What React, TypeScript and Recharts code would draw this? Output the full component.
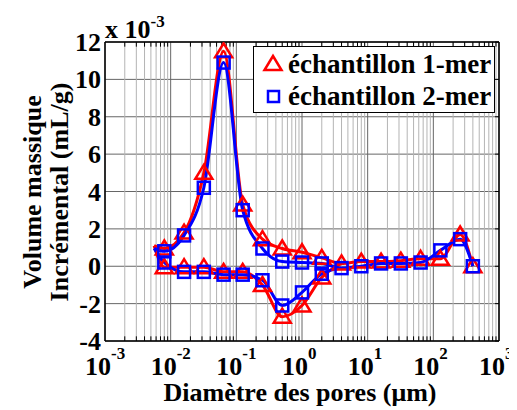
import React from "react";
import {
  LineChart,
  Line,
  XAxis,
  YAxis,
  CartesianGrid,
  ReferenceLine,
  Legend,
} from "recharts";

const FONT = '"Liberation Serif", "Times New Roman", serif';

// pore diameters (µm), same for both samples
const diameters = [0.008, 0.016, 0.032, 0.064, 0.125, 0.25, 0.5, 1, 2, 4, 8, 16, 32, 64, 128, 256, 400];
const mer1Upper = [0.95, 1.8, 5.0, 11.5, 3.3, 1.45, 0.95, 0.75, 0.45, 0.15, 0.25, 0.25, 0.3, 0.4, 0.4, 1.7, 0.0];
const mer2Upper = [0.8, 1.65, 4.2, 10.9, 3.0, 0.95, 0.25, 0.2, 0.15, -0.1, 0.0, 0.15, 0.15, 0.2, 0.85, 1.45, 0.0];

// lower branch of the loop
const lowerDiameters = [0.008, 0.016, 0.032, 0.064, 0.125, 0.25, 0.5, 1, 2];
const mer1Lower = [-0.05, -0.05, -0.05, -0.3, -0.3, -1.0, -2.7, -2.1, -0.6];
const mer2Lower = [0.2, -0.3, -0.3, -0.45, -0.45, -0.75, -2.1, -1.4, -0.4];

// left tip of the loop where both branches meet
const loopDiameter = 0.0056;
const mer1Loop = 1.1;
const mer2Loop = 0.95;

const xTicks = [0.001, 0.01, 0.1, 1, 10, 100, 1000];
const yTicks = [-4, -2, 0, 2, 4, 6, 8, 10, 12];

const minorX: number[] = [];
for (let e = -3; e < 3; e++) {
  for (let m = 2; m <= 9; m++) minorX.push(m * Math.pow(10, e));
}

const upperData = (vals: number[], tip: number) => [
  { d: loopDiameter, v: tip, mark: false },
  ...diameters.map((d, i) => ({ d, v: vals[i], mark: true })),
];
const lowerData = (vals: number[], tip: number, join: number) => [
  { d: loopDiameter, v: tip, mark: false },
  ...lowerDiameters.map((d, i) => ({ d, v: vals[i], mark: true })),
  { d: 4, v: join, mark: false },
];

const red1Up = upperData(mer1Upper, mer1Loop);
const red1Low = lowerData(mer1Lower, mer1Loop, mer1Upper[9]);
const blue2Up = upperData(mer2Upper, mer2Loop);
const blue2Low = lowerData(mer2Lower, mer2Loop, mer2Upper[9]);

const Triangle = (props: any) => {
  const { cx, cy, payload, index } = props;
  if (!payload || !payload.mark) return <g key={index} />;
  return (
    <polygon
      key={index}
      points={`${cx},${cy - 8} ${cx + 8.5},${cy + 6} ${cx - 8.5},${cy + 6}`}
      fill="none"
      stroke="#ff0000"
      strokeWidth={2.5}
    />
  );
};

const Square = (props: any) => {
  const { cx, cy, payload, index } = props;
  if (!payload || !payload.mark) return <g key={index} />;
  return (
    <rect
      key={index}
      x={cx - 6}
      y={cy - 6}
      width={12}
      height={12}
      fill="none"
      stroke="#0000ff"
      strokeWidth={2.5}
    />
  );
};

const XTick = ({ x, payload }: any) => {
  const exp = Math.round(Math.log10(payload.value));
  return (
    <text x={x - 20} y={367} fontFamily={FONT} fontWeight="bold" fontSize={26} fill="#000">
      10
      <tspan dy={-16} fontSize={17}>{exp}</tspan>
    </text>
  );
};

const YTick = ({ y, payload }: any) => (
  <text x={93} y={y} dy={9} textAnchor="end" fontFamily={FONT} fontWeight="bold" fontSize={26} fill="#000">
    {payload.value}
  </text>
);

const YTitle = () => (
  <g fontFamily={FONT} fontWeight="bold" fill="#000">
    <text transform="translate(33, 184) rotate(-90)" textAnchor="middle" fontSize={26}>
      Volume massique
    </text>
    <text transform="translate(60, 184) rotate(-90)" textAnchor="middle" fontSize={26}>
      Incrémental (mL/g)
    </text>
    <text x={97} y={30} fontSize={26}>
      x 10
      <tspan dy={-11} fontSize={17}>-3</tspan>
    </text>
  </g>
);

const XTitle = () => (
  <text x={292} y={393} textAnchor="middle" fontFamily={FONT} fontWeight="bold" fontSize={26} fill="#000">
    Diamètre des pores (μm)
  </text>
);

const LegendBox = () => (
  <div style={{ border: "1.5px solid #000", background: "#fff", width: 240, height: 65 }}>
    <svg width={240} height={65} style={{ display: "block" }}>
      <polygon points="19,9 27.5,23 10.5,23" fill="none" stroke="#ff0000" strokeWidth={2.5} />
      <rect x={14} y={44} width={11} height={11} fill="none" stroke="#0000ff" strokeWidth={2.5} />
      <g fontFamily={FONT} fontWeight="bold" fontSize={27} fill="#000">
        <text x={34} y={26}>échantillon 1-mer</text>
        <text x={34} y={58}>échantillon 2-mer</text>
      </g>
    </svg>
  </div>
);

const App = () => (
  <LineChart width={509} height={400} margin={{ top: 34, right: 18, bottom: 27, left: 37 }}>
    <CartesianGrid vertical={false} stroke="#666" strokeWidth={1} />
    <XAxis
      dataKey="d"
      type="number"
      scale="log"
      domain={[0.001, 1000]}
      ticks={xTicks}
      allowDataOverflow
      axisLine={false}
      tickLine={false}
      tick={<XTick />}
      height={40}
      label={<XTitle />}
    />
    <YAxis
      type="number"
      domain={[-4, 12]}
      ticks={yTicks}
      allowDataOverflow
      axisLine={false}
      tickLine={false}
      tick={<YTick />}
      width={60}
      label={<YTitle />}
    />
    {minorX.map((v) => (
      <ReferenceLine key={`m${v}`} x={v} stroke="#b4b4b4" strokeWidth={1} />
    ))}
    {xTicks.map((v) => (
      <ReferenceLine key={`M${v}`} x={v} stroke="#666" strokeWidth={1} />
    ))}
    {minorX.map((v) => (
      <ReferenceLine key={`tt${v}`} segment={[{ x: v, y: 12 }, { x: v, y: 11.75 }]} stroke="#000" />
    ))}
    {minorX.map((v) => (
      <ReferenceLine key={`tb${v}`} segment={[{ x: v, y: -4 }, { x: v, y: -3.75 }]} stroke="#000" />
    ))}
    {yTicks.map((v) => (
      <ReferenceLine key={`tr${v}`} segment={[{ x: 1000, y: v }, { x: 870, y: v }]} stroke="#000" />
    ))}
    <ReferenceLine x={0.001} stroke="#000" strokeWidth={1.5} />
    <ReferenceLine x={1000} stroke="#000" strokeWidth={1.5} />
    <ReferenceLine y={-4} stroke="#000" strokeWidth={1.5} />
    <ReferenceLine y={12} stroke="#000" strokeWidth={1.5} />
    <Line data={red1Up} dataKey="v" type="monotone" stroke="#ff0000" strokeWidth={3} dot={Triangle} activeDot={false} isAnimationActive={false} legendType="none" />
    <Line data={red1Low} dataKey="v" type="monotone" stroke="#ff0000" strokeWidth={3} dot={Triangle} activeDot={false} isAnimationActive={false} legendType="none" />
    <Line data={blue2Up} dataKey="v" type="monotone" stroke="#0000ff" strokeWidth={3} dot={Square} activeDot={false} isAnimationActive={false} legendType="none" />
    <Line data={blue2Low} dataKey="v" type="monotone" stroke="#0000ff" strokeWidth={3} dot={Square} activeDot={false} isAnimationActive={false} legendType="none" />
    <Legend
      layout="vertical"
      align="center"
      verticalAlign="middle"
      content={<LegendBox />}
      wrapperStyle={{ top: 38, left: 245, width: "auto", height: "auto" }}
    />
  </LineChart>
);

export default App;
